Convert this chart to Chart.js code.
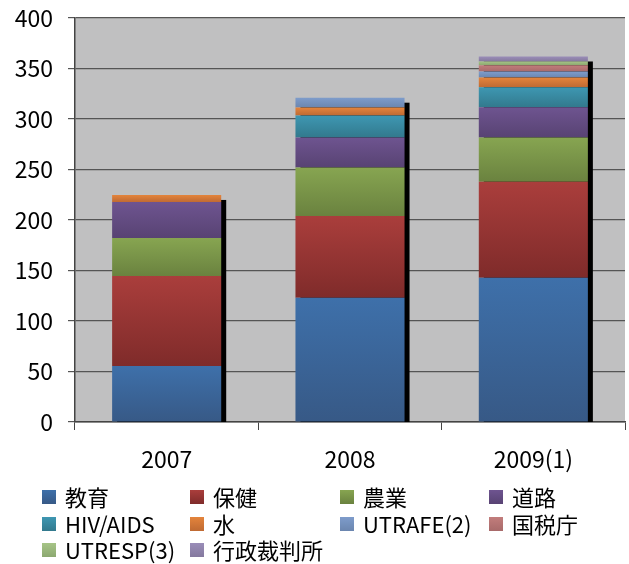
<!DOCTYPE html>
<html>
<head>
<meta charset="UTF-8">
<script src="https://cdn.jsdelivr.net/npm/chart.js@4/dist/chart.umd.min.js"></script>
<style>
  html, body { margin: 0; padding: 0; background: #fff; }
  #wrap { width: 629px; height: 564px; }
</style>
</head>
<body>
<div id="wrap"><canvas id="c" width="629" height="564"></canvas></div>
<script>
// 値はグラフから目で読んだもの
var years = ["2007", "2008", "2009(1)"];
var seriesNames = ["教育", "保健", "農業", "道路", "HIV/AIDS", "水", "UTRAFE(2)", "国税庁", "UTRESP(3)", "行政裁判所"];
var kyoiku   = [55.5, 123, 142.8];
var hoken    = [89, 81, 95];
var nogyo    = [37.7, 48, 44];
var doro     = [35.6, 29.7, 29.8];
var hivAids  = [0, 21.8, 19.8];
var mizu     = [7, 7.9, 9.6];
var utrafe   = [0, 9.7, 6];
var kokuzei  = [0, 0, 6.3];
var utresp   = [0, 0, 3.7];
var gyosei   = [0, 0, 4.9];
var yTicks   = [0, 50, 100, 150, 200, 250, 300, 350, 400];

var seriesValues = [kyoiku, hoken, nogyo, doro, hivAids, mizu, utrafe, kokuzei, utresp, gyosei];

// 色（上→下のグラデーション）
var topColors = ["#3E70AA", "#AA3E3C", "#87A551", "#6E5490", "#3E97B2", "#E4843C", "#7E9CCB", "#C27D7C", "#A6C487", "#9A8DB8"];
var bottomColors = ["#375986", "#7F2B2A", "#6A823F", "#584373", "#32798D", "#BF6A33", "#6B86AF", "#A86A6A", "#8CA870", "#85799E"];

var FONT = "'Noto Sans CJK JP', 'Noto Sans', sans-serif";

var stackBase = function( si, ci ){
	var s = 0;
	for( var k=0; k<si; k++ ){ s += seriesValues[k][ci]; }
	return s;
};

var segmentFill = function( si ){
	return function( ctx ){
		var chart = ctx.chart, y = chart.scales.y;
		if( !y || !chart.chartArea || ctx.dataIndex === undefined ){ return topColors[si]; }
		var base = stackBase( si, ctx.dataIndex );
		var v = seriesValues[si][ctx.dataIndex];
		var y0 = y.getPixelForValue( base + v ), y1 = y.getPixelForValue( base );
		if( !(y1 - y0 > 0.5) ){ return topColors[si]; }
		var g = chart.ctx.createLinearGradient( 0, y0, 0, y1 );
		g.addColorStop( 0, topColors[si] );
		g.addColorStop( 1, bottomColors[si] );
		return g;
	};
};

var datasets = seriesNames.map(function( name, i ){
	return {
		label : name,
		data : seriesValues[i],
		backgroundColor : segmentFill( i ),
		borderWidth : 0,
		categoryPercentage : 1.0,
		barPercentage : 0.595
	};
});

// プロット背景（灰色）
var plotBg = {
	id : "plotBg",
	beforeDraw : function( chart ){
		var a = chart.chartArea, c = chart.ctx;
		c.save();
		c.fillStyle = "#C0C0C1";
		c.fillRect( a.left, a.top, a.right - a.left, a.bottom - a.top );
		c.restore();
	}
};

// 棒の右下の黒い影
var barShadow = {
	id : "barShadow",
	beforeDatasetsDraw : function( chart ){
		var c = chart.ctx, y = chart.scales.y, a = chart.chartArea;
		var meta = chart.getDatasetMeta( 0 );
		c.save();
		c.fillStyle = "#000";
		meta.data.forEach(function( el, ci ){
			var total = stackBase( seriesValues.length, ci );
			var top = y.getPixelForValue( total );
			var w = el.width;
			c.fillRect( el.x - w/2 + 5, top + 5, w, a.bottom - top - 5 );
		});
		c.restore();
	}
};

// 4列のレジェンド
var gridLegend = {
	id : "gridLegend",
	afterDraw : function( chart ){
		var c = chart.ctx;
		var colX = [42, 190, 340, 489], rowY = [497, 524, 550], box = 14;
		c.save();
		c.font = "22px " + FONT;
		c.textBaseline = "middle";
		c.fillStyle = "#000";
		chart.data.datasets.forEach(function( ds, i ){
			var x = colX[i % 4], yy = rowY[Math.floor( i / 4 )];
			var g = c.createLinearGradient( 0, yy - box/2, 0, yy + box/2 );
			g.addColorStop( 0, topColors[i] );
			g.addColorStop( 1, bottomColors[i] );
			c.fillStyle = g;
			c.fillRect( x, yy - box/2, box, box );
			c.fillStyle = "#000";
			c.fillText( ds.label, x + 23, yy + 1 );
		});
		c.restore();
	}
};

var chart = new Chart( document.getElementById("c"), {
	type : "bar",
	data : { labels : years, datasets : datasets },
	options : {
		responsive : false,
		animation : false,
		events : [],
		layout : { padding : { top : 18, right : 4, left : 0, bottom : 0 } },
		plugins : {
			legend : { display : false },
			tooltip : { enabled : false }
		},
		scales : {
			x : {
				stacked : true,
				offset : true,
				grid : {
					offset : true,
					drawOnChartArea : false,
					drawTicks : true,
					tickLength : 8,
					color : "#444",
					lineWidth : 1
				},
				border : { color : "#444", width : 1.5 },
				ticks : { color : "#000", font : { family : FONT, size : 23 }, padding : 15 },
				afterFit : function( s ){ s.height = 142; }
			},
			y : {
				stacked : true,
				min : 0,
				max : 400,
				afterBuildTicks : function( s ){
					s.ticks = yTicks.map(function( v ){ return { value : v }; });
				},
				grid : {
					color : "#555",
					lineWidth : 1.2,
					tickLength : 7
				},
				border : { color : "#444", width : 1.5 },
				ticks : { color : "#000", font : { family : FONT, size : 23 }, padding : 15 },
				afterFit : function( s ){
					s.width = 75;
					s.paddingTop = 0;
					s.paddingBottom = 0;
				}
			}
		}
	},
	plugins : [ plotBg, barShadow, gridLegend ]
});
</script>
</body>
</html>
